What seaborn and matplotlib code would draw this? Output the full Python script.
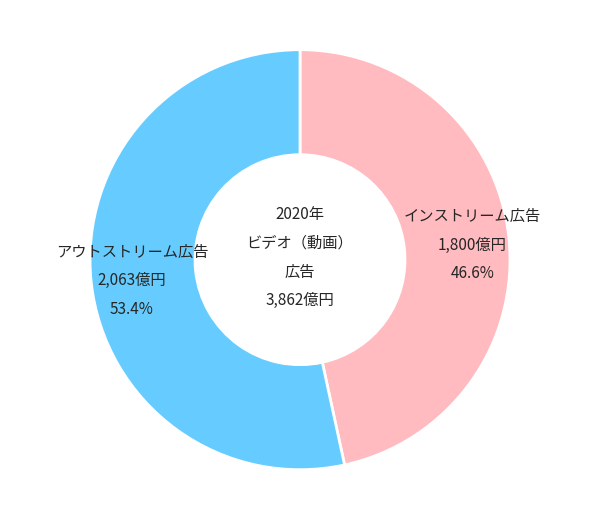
import matplotlib.pyplot as plt
import seaborn as sns

sns.set_theme(style="white")
plt.rcParams['font.family'] = ['Noto Sans CJK JP', 'DejaVu Sans']

# data
labels = ["インストリーム広告", "アウトストリーム広告"]
values = [1800, 2063]
shares = ["46.6%", "53.4%"]
colors = ["#FFBBBF", "#66CCFF"]
total_text = "2020年\nビデオ（動画）\n広告\n3,862億円"

fig = plt.figure(figsize=(6, 5.22), dpi=100)
ax = fig.add_axes([0.15, 0.1, 0.7, 0.805])

ax.pie(values, colors=colors, startangle=90, counterclock=False,
       wedgeprops=dict(width=0.5, edgecolor="white", linewidth=2))

ax.text(0, 0.01, total_text, ha="center", va="center", fontsize=11, linespacing=1.9)
ax.text(0.82, 0.07, f"{labels[0]}\n{values[0]:,}億円\n{shares[0]}",
        ha="center", va="center", fontsize=11, linespacing=1.9)
ax.text(-0.8, -0.1, f"{labels[1]}\n{values[1]:,}億円\n{shares[1]}",
        ha="center", va="center", fontsize=11, linespacing=1.9)

ax.set_xlim(-1, 1)
ax.set_ylim(-1, 1)
ax.set_aspect("equal")

fig.savefig("out.png")
